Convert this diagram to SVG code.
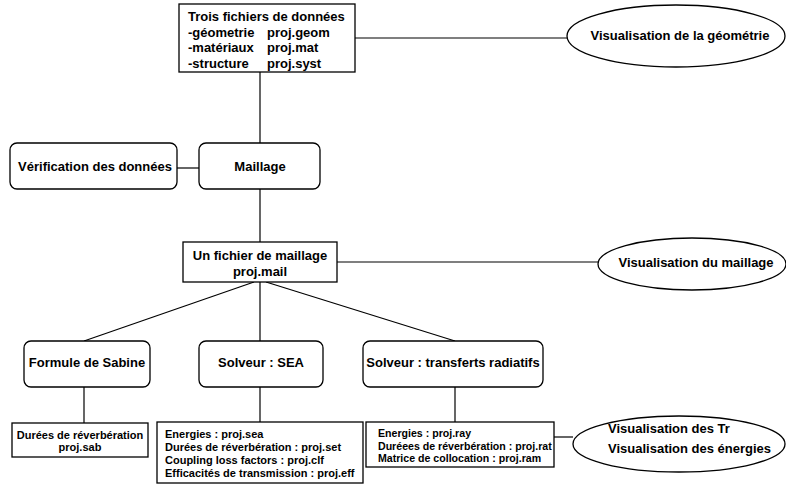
<svg xmlns="http://www.w3.org/2000/svg" width="786" height="485" viewBox="0 0 786 485">
<style>
.b{fill:#fff;stroke:#000;stroke-width:1.3}
.l{fill:none;stroke:#000;stroke-width:1.2}
text{font-family:"Liberation Sans",Arial,sans-serif;font-weight:bold;fill:#000}
.t{font-size:13px}
.s{font-size:11px}
.r{font-size:10.6px}
.c{text-anchor:middle}
</style>
<rect width="786" height="485" fill="#fff"/>
<g id="connectors">
<line class="l" x1="355" y1="38" x2="568" y2="38"/>
<line class="l" x1="260" y1="72" x2="260" y2="143"/>
<line class="l" x1="177" y1="168" x2="199" y2="168"/>
<line class="l" x1="260" y1="189" x2="260" y2="242"/>
<line class="l" x1="337" y1="262" x2="598" y2="262"/>
<line class="l" x1="254" y1="282" x2="84" y2="341"/>
<line class="l" x1="260" y1="282" x2="260" y2="341"/>
<line class="l" x1="266" y1="282" x2="455" y2="341"/>
<line class="l" x1="84" y1="387" x2="84" y2="423"/>
<line class="l" x1="260" y1="387" x2="260" y2="422"/>
<line class="l" x1="455" y1="387" x2="455" y2="422"/>
<line class="l" x1="554" y1="437" x2="573" y2="437"/>
</g>
<g id="donnees">
<rect class="b" x="179" y="4" width="176" height="68"/>
<text class="t" x="188" y="21">Trois fichiers de données</text>
<text class="t" x="188" y="37">-géometrie</text>
<text class="t" x="267" y="37">proj.geom</text>
<text class="t" x="188" y="52">-matériaux</text>
<text class="t" x="267" y="52">proj.mat</text>
<text class="t" x="188" y="68">-structure</text>
<text class="t" x="267" y="68">proj.syst</text>
</g>
<g id="visu-geom">
<ellipse class="b" cx="676" cy="36" rx="109" ry="31"/>
<text class="t c" x="680" y="40">Visualisation de la géométrie</text>
</g>
<g id="verification">
<rect class="b" x="10" y="143" width="167" height="46" rx="7"/>
<text class="t c" x="95" y="171">Vérification des données</text>
</g>
<g id="maillage">
<rect class="b" x="199" y="143" width="121" height="46" rx="7"/>
<text class="t c" x="260" y="171">Maillage</text>
</g>
<g id="fichier-maillage">
<rect class="b" x="183" y="242" width="154" height="40"/>
<text class="t c" x="260" y="260">Un fichier de maillage</text>
<text class="t c" x="260" y="276">proj.mail</text>
</g>
<g id="visu-maillage">
<ellipse class="b" cx="692" cy="264" rx="94" ry="26"/>
<text class="t c" x="696" y="267">Visualisation du maillage</text>
</g>
<g id="sabine">
<rect class="b" x="24" y="341" width="126" height="46" rx="7"/>
<text class="t c" x="87" y="367">Formule de Sabine</text>
</g>
<g id="sea">
<rect class="b" x="199" y="341" width="124" height="46" rx="7"/>
<text class="t c" x="261" y="367">Solveur : SEA</text>
</g>
<g id="radiatif">
<rect class="b" x="363" y="341" width="180" height="46" rx="7"/>
<text class="t c" x="453" y="367">Solveur : transferts radiatifs</text>
</g>
<g id="out-sabine">
<rect class="b" x="12" y="423" width="136" height="34"/>
<text class="s c" x="80" y="439">Durées de réverbération</text>
<text class="s c" x="80" y="451">proj.sab</text>
</g>
<g id="out-sea">
<rect class="b" x="157" y="422" width="206" height="61"/>
<text class="s" x="165" y="438">Energies : proj.sea</text>
<text class="s" x="165" y="451">Durées de réverbération : proj.set</text>
<text class="s" x="165" y="464">Coupling loss factors : proj.clf</text>
<text class="s" x="165" y="477">Efficacités de transmission : proj.eff</text>
</g>
<g id="out-radiatif">
<rect class="b" x="366" y="422" width="188" height="45"/>
<text class="r" x="378" y="437">Energies : proj.ray</text>
<text class="r" x="378" y="450">Duréees de réverbération : proj.rat</text>
<text class="r" x="378" y="462">Matrice de collocation : proj.ram</text>
</g>
<g id="visu-energies">
<ellipse class="b" cx="679" cy="444" rx="106" ry="28"/>
<text class="t" x="608" y="433">Visualisation des Tr</text>
<text class="t" x="608" y="453">Visualisation des énergies</text>
</g>
</svg>
